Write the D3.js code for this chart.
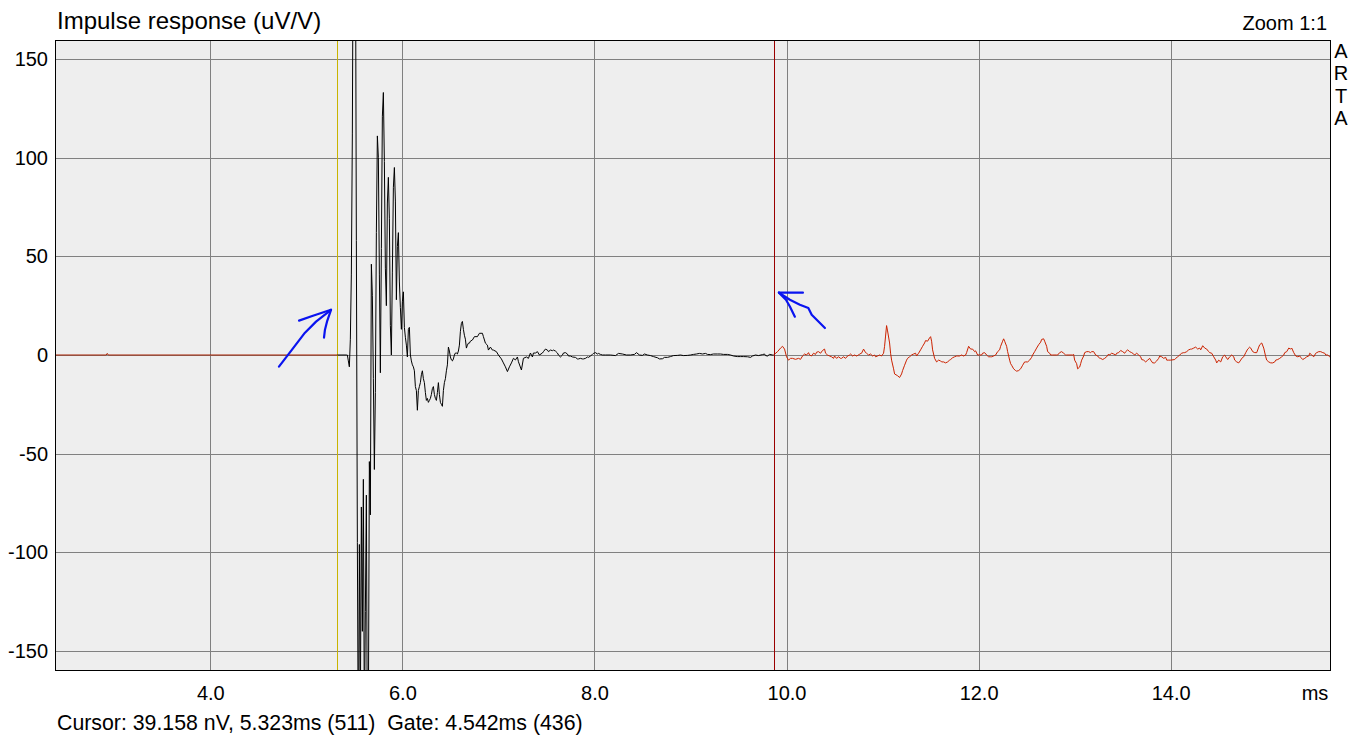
<!DOCTYPE html>
<html>
<head>
<meta charset="utf-8">
<script src="https://cdn.jsdelivr.net/npm/d3@7"></script>
<style>
  html, body { margin: 0; padding: 0; background: #ffffff; }
  svg { display: block; font-family: Arial, "Liberation Sans", sans-serif; }
</style>
</head>
<body>
<svg id="chart" width="1364" height="742"></svg>
<script>
// ---------------- data ----------------
const chartTitle = "Impulse response (uV/V)";
const zoomLabel = "Zoom 1:1";
const brandLetters = ["A", "R", "T", "A"];
const statusLine = "Cursor: 39.158 nV, 5.323ms (511)  Gate: 4.542ms (436)";
const xUnitLabel = "ms";

const xTicks = [4.0, 6.0, 8.0, 10.0, 12.0, 14.0];
const yTicks = [-150, -100, -50, 0, 50, 100, 150];
const xDomainMs = [2.383, 15.659];
const yDomainUV = [-159.6, 159.6];

const cursorMs = 5.323, cursorSample = 511;
const gateLengthMs = 4.542, gateSamples = 436;

// trace before the cursor (sample index, uV)
const preSamples = [229, 280, 281, 282, 511];
const preValues  = [0, 0, 0.8, 0, 0];

// gated trace, cursor -> gate end (sample index, uV)
const gatedSamples = [511,520,521,522,523,524,525,526,527,528,529,530,531,532,533,534,535,536,537,538,539,
 540,541,542,543,544,545,546,547,548,549,550,551,552,553,554,555,556,557,558,559,560,561,562,563,564,565,566,567,568,569,
 570,571,572,573,574,575,576,577,578,579,580,581,582,583,584,585,586,587,588,589,590,591,592,593,594,595,596,597,598,599,
 600,601,602,603,604,605,606,607,608,609,610,611,612,613,614,615,616,617,618,619,620,621,622,623,624,625,626,627,628,629,
 630,631,632,633,634,635,636,637,638,639,640,641,642,643,644,646,648,651,653,656,657,659,661,662,664,666,667,670,672,675,
 677,679,681,683,685,687,689,691,692,695,697,700,702,704,706,707,709,711,713,716,717,719,721,722,724,726,727,729,731,732,
 734,736,737,739,741,742,744,746,749,751,752,754,756,757,759,761,762,764,766,767,769,771,772,774,776,779,784,789,792,796,
 800,804,808,810,813,816,818,821,824,827,831,833,836,838,841,844,847,851,854,857,861,864,867,870,873,876,879,881,884,887,
 891,894,897,901,904,907,911,914,917,921,924,926,929,932,936,938,939,941,943,946,947];
const gatedValues = [0,0,0,-3,-6,8,41,112,240,270,230,58,-95,-210,-96,-180,-77,-140,-63,-190,-130,
 -71,-200,-185,-54,-81,46,30,-12,-58,-19,62,111,100,41,-9,54,121,133,98,44,25,77,90,69,15,0,42,85,95,78,
 28,55,62,37,24,13,27,32,14,9,5,-1,13,14,0,-3,-5,-6,-8,-16,-18,-28,-18,-16,-14,-10,-8,-12,-14,-19,
 -23,-22,-24,-23,-22,-20,-17,-16,-20,-22,-23,-19,-14,-20,-24,-25,-26,-18,-14,-12,-8,-5,4,2,-1,-2.5,-3,-2,0,1,
 1,0.5,2,5,12,16,17,13,10,8,3.5,5,6,6,7,7.6,9.3,9.3,11,11,9.3,6,5,2.5,4,2.5,2.5,1.7,0,-2,
 -4,-6,-8.4,-6,-4,-1.7,-2.5,-1,-3.4,-7.6,-1.7,-1,-1.7,1,-1,1,1,1.7,0,1,1.7,3,2.5,1.7,2.5,2.2,2.5,2,1,0,
 -1,0,1,1.2,0.5,-0.5,-0.5,-1,-1.2,-2,-2,-1.7,-2,-2,-1.7,-1,-1.2,-0.5,0.3,0.8,1.2,0.5,0.8,0.3,0,0,0,-0.3,0.8,0.5,
 0,0,0.3,1.2,0,-0.2,0.5,0,-0.3,-0.8,-1.4,-2,-1.9,-1.2,-1.2,-0.8,-0.3,-0.2,0,-0.3,-0.2,0,0.3,0.5,0.8,0.5,0.8,0.3,0.2,0.5,
 0.5,0.5,0.3,0.3,0,-0.5,-0.8,-0.8,-0.8,-0.9,-1.2,-0.5,0,-0.3,0.2,0.5,-0.3,-0.5,0.3,0,0];

// trace after the gate (sample index, uV)
const postSamples = [947,951,954,956,958,960,962,964,966,969,972,974,976,978,980,982,983,985,987,989,990,992,994,996,998,999,
 1001,1003,1005,1007,1008,1010,1012,1014,1015,1017,1019,1021,1023,1024,1026,1028,1030,1032,1033,1035,1037,1039,1040,1042,1044,
 1046,1048,1049,1051,1053,1055,1057,1058,1059,1060,1061,1063,1064,1065,1067,1068,1071,1073,1075,1076,1078,1080,1081,1083,1084,
 1085,1087,1089,1090,1092,1094,1096,1098,1099,1101,1103,1104,1105,1106,1108,1110,1112,1114,1115,1117,1119,1121,1123,1124,1126,
 1128,1130,1131,1133,1135,1137,1139,1140,1142,1144,1146,1148,1149,1151,1153,1155,1156,1158,1160,1162,1164,1165,1167,1169,1171,
 1173,1174,1176,1177,1178,1180,1181,1183,1184,1185,1187,1189,1190,1192,1194,1196,1198,1199,1201,1203,1205,1206,1208,1210,1212,
 1214,1215,1217,1218,1220,1221,1223,1224,1226,1230,1231,1233,1235,1237,1239,1240,1246,1247,1248,1250,1251,1253,1254,1255,1257,
 1258,1260,1262,1264,1265,1267,1269,1271,1273,1274,1276,1278,1280,1282,1283,1285,1287,1289,1290,1292,1294,1296,1298,1299,1301,
 1303,1305,1307,1308,1310,1312,1314,1315,1317,1319,1321,1323,1324,1326,1328,1330,1332,1333,1335,1337,1339,1340,1342,1344,1348,
 1349,1351,1353,1355,1357,1358,1360,1362,1364,1365,1367,1369,1371,1373,1374,1376,1378,1380,1382,1383,1385,1387,1389,1390,1392,
 1394,1396,1398,1399,1401,1403,1405,1407,1408,1410,1412,1414,1415,1417,1419,1421,1423,1424,1426,1428,1430,1432,1433,1435,1437,
 1439,1440,1442,1444,1446,1448,1449,1451,1453,1455,1457,1458,1460,1462,1464,1465,1467,1469,1471,1473,1474,1476,1478,1480,1482,
 1483,1485,1487,1489,1490,1492,1494,1496,1498,1499,1501,1503,1505];
const postValues = [0,1.7,3.5,4.4,3,-0.9,-2.6,-1.7,-1.7,-2.2,-1.7,-2.2,-0.5,0.5,0,1.2,0,-0.5,0.9,0.3,1.4,1.7,0.9,2.3,3,0.9,
 0,-0.5,-0.9,-1.7,-0.5,-1.7,-0.9,-1.7,-1.7,-0.9,-1.7,-0.5,0,0.5,-0.5,0,-0.5,0,0.5,0.9,3,1.2,0.9,0,0.5,
 -0.5,0,-0.9,-0.5,0,-0.5,0.9,4.4,9.6,14.9,12.2,6.1,0.9,-2.6,-7,-9.6,-10.5,-11.4,-9.6,-7.9,-5.2,-2.6,-1.7,-0.9,-0.5,
 0,0.5,0.9,-0.5,0.9,2.6,4.4,6.1,7.3,7,8.7,9.3,7,2.6,-1.7,-3.5,-2.6,-3,-3.5,-3.5,-4,-3.5,-2.6,-2.3,-1.4,
 -0.9,-0.5,-0.5,-0.5,0,-0.5,0,1.2,4.4,3,3,1.7,2.1,0,0,0,0.9,1.2,0,-0.9,-0.9,-0.9,-0.5,0,1.7,
 2.6,4.4,7,8.2,7,4.4,1.7,-2.6,-4.4,-5.2,-7,-7.9,-8.2,-7.9,-7,-5.2,-3.5,-3.5,-3.5,-2.6,-1.2,0,1.7,3.5,5.2,
 6.5,7.9,8.2,7,4.4,1.7,0.9,0,0,0,0,1.2,1.7,0.9,0,0,0,0.3,-2.6,-4.4,-7,-6.1,-4.4,-2.6,-0.5,
 1.2,1.7,1.7,1.2,1.7,1.7,0,-0.5,-1.7,-1.7,-2.3,-1.7,-0.9,0.5,0,0.9,0.5,0,0.9,1.2,2.3,1.7,0.9,1.7,2.6,
 1.7,1.2,0.5,0,0.9,0,-0.9,-2.3,-2.6,-3.5,-2.6,-1.7,-2.6,-4,-4,-3,-1.7,-0.5,-0.9,-1.7,-1.2,-2.6,-2.6,-2.6,-2.3,
 -1.7,-0.9,0,0.9,1.2,1.2,1.7,2.6,3,3,3.5,4,3,3.5,2.6,4.7,3.5,3,1.7,1.2,0.9,-0.9,-2.6,-4,-2.6,
 -3.5,-0.9,0,-0.9,-2.3,-0.9,0,-0.9,-2.6,-3.5,-4,-2.6,-1.7,-0.9,1.2,3,4,3.5,1.7,1.2,1.2,4,5.2,6.1,3.5,
 -0.9,-2.6,-3.5,-4,-4,-3.5,-2.6,-2.3,-1.7,-0.9,0,1.2,1.7,3.5,3,3.5,1.2,-0.5,-0.9,-0.5,-1.2,-2.3,-1.7,-0.9,-0.5,
 0.9,0,-0.9,0.9,1.2,1.7,1.7,1.2,0.9,0,0,-0.9,-0.5];

// hand-drawn blue annotation arrows (ms, uV)
const arrowLeftShaft = [[4.715,-5.9],[4.851,2.7],[4.986,11.3],[5.101,16.9],[5.257,22.9]];
const arrowLeftBarbA = [[4.924,17.4],[5.069,19.9],[5.257,22.9]];
const arrowLeftBarbB = [[5.184,8.8],[5.194,12.8],[5.215,16.9],[5.257,22.9]];
const arrowRightTop   = [[9.921,31.6],[10.171,31.6]];
const arrowRightBarb  = [[9.921,31.6],[9.994,28.0],[10.035,24.6],[10.087,19.4]];
const arrowRightShaft = [[9.921,31.6],[10.035,28.0],[10.139,25.5],[10.227,23.8],[10.262,20.4],[10.400,13.7]];

// ---------------- drawing ----------------
const W = 1364, H = 742;
const plot = { left: 55, right: 1330, top: 40, bottom: 670 };
const svg = d3.select("#chart");
svg.append("rect").attr("width", W).attr("height", H).attr("fill", "#ffffff");

const x = d3.scaleLinear().domain(xDomainMs).range([plot.left, plot.right]);
const y = d3.scaleLinear().domain(yDomainUV).range([plot.bottom, plot.top]);
const msPerSample = cursorMs / cursorSample;
const gateMs = cursorMs + gateLengthMs;

svg.append("rect")
  .attr("x", plot.left).attr("y", plot.top)
  .attr("width", plot.right - plot.left).attr("height", plot.bottom - plot.top)
  .attr("fill", "#eeeeee");

svg.append("defs").append("clipPath").attr("id", "clip")
  .append("rect")
  .attr("x", plot.left + 1).attr("y", plot.top + 1)
  .attr("width", plot.right - plot.left - 1).attr("height", plot.bottom - plot.top - 1);

// gridlines + tick labels through d3 axes
const yAxis = d3.axisLeft(y).tickValues(yTicks)
  .tickSize(-(plot.right - plot.left)).tickPadding(7)
  .tickFormat(d => String(d));
const gy = svg.append("g").attr("transform", `translate(${plot.left},0)`).call(yAxis);
gy.select(".domain").remove();
gy.selectAll(".tick line").attr("stroke", "#808080").attr("shape-rendering", "crispEdges");
gy.selectAll(".tick text").attr("fill", "#000").attr("font-size", 20)
  .attr("font-family", "Arial, 'Liberation Sans', sans-serif");

const xAxis = d3.axisBottom(x).tickValues(xTicks)
  .tickSize(-(plot.bottom - plot.top)).tickPadding(16)
  .tickFormat(d => d.toFixed(1));
const gx = svg.append("g").attr("transform", `translate(0,${plot.bottom})`).call(xAxis);
gx.select(".domain").remove();
gx.selectAll(".tick line").attr("stroke", "#808080").attr("shape-rendering", "crispEdges");
gx.selectAll(".tick text").attr("fill", "#000").attr("font-size", 20)
  .attr("font-family", "Arial, 'Liberation Sans', sans-serif");

// cursor marker
svg.append("line")
  .attr("x1", Math.round(x(cursorMs)) + 0.5).attr("x2", Math.round(x(cursorMs)) + 0.5)
  .attr("y1", plot.top).attr("y2", plot.bottom)
  .attr("stroke", "#c8b400").attr("stroke-width", 1).attr("shape-rendering", "crispEdges");

// traces
const line = d3.line().x(d => x(d[0] * msPerSample)).y(d => y(d[1]));
const traces = svg.append("g").attr("clip-path", "url(#clip)");
function drawTrace(samples, values, color) {
  const pts = samples.map((n, i) => [n, values[i]]);
  traces.append("path").datum(pts)
    .attr("d", line).attr("fill", "none")
    .attr("stroke", color).attr("stroke-width", 1)
    .attr("stroke-linejoin", "miter");
}
drawTrace(preSamples, preValues, "#a82000");
drawTrace(gatedSamples, gatedValues, "#000000");
drawTrace(postSamples, postValues, "#cc2200");

// gate marker
svg.append("line")
  .attr("x1", Math.round(x(gateMs)) + 0.5).attr("x2", Math.round(x(gateMs)) + 0.5)
  .attr("y1", plot.top).attr("y2", plot.bottom)
  .attr("stroke", "#9a0000").attr("stroke-width", 1).attr("shape-rendering", "crispEdges");

// border
svg.append("rect")
  .attr("x", plot.left + 0.5).attr("y", plot.top + 0.5)
  .attr("width", plot.right - plot.left).attr("height", plot.bottom - plot.top)
  .attr("fill", "none").attr("stroke", "#000").attr("stroke-width", 1)
  .attr("shape-rendering", "crispEdges");

// annotations
const aLine = d3.line().x(d => x(d[0])).y(d => y(d[1]));
[arrowLeftShaft, arrowLeftBarbA, arrowLeftBarbB, arrowRightTop, arrowRightBarb, arrowRightShaft]
  .forEach(pts => {
    svg.append("path").datum(pts).attr("d", aLine)
      .attr("fill", "none").attr("stroke", "#0a14f0").attr("stroke-width", 2.2)
      .attr("stroke-linecap", "round").attr("stroke-linejoin", "round");
  });

// texts
svg.append("text").attr("x", 57).attr("y", 29)
  .attr("font-size", 24).attr("fill", "#000").text(chartTitle);
svg.append("text").attr("x", 1327).attr("y", 30).attr("text-anchor", "end")
  .attr("font-size", 20).attr("fill", "#000").text(zoomLabel);
svg.selectAll("text.brand").data(brandLetters).enter().append("text")
  .attr("class", "brand")
  .attr("x", 1341).attr("y", (d, i) => 57.5 + i * 22.5)
  .attr("text-anchor", "middle").attr("font-size", 20).attr("fill", "#000")
  .text(d => d);
svg.append("text").attr("x", 1315).attr("y", 700).attr("text-anchor", "middle")
  .attr("font-size", 20).attr("fill", "#000").text(xUnitLabel);
svg.append("text").attr("x", 57).attr("y", 730)
  .attr("font-size", 21.3).attr("fill", "#000")
  .style("white-space", "pre").attr("xml:space", "preserve")
  .text(statusLine);
</script>
</body>
</html>
